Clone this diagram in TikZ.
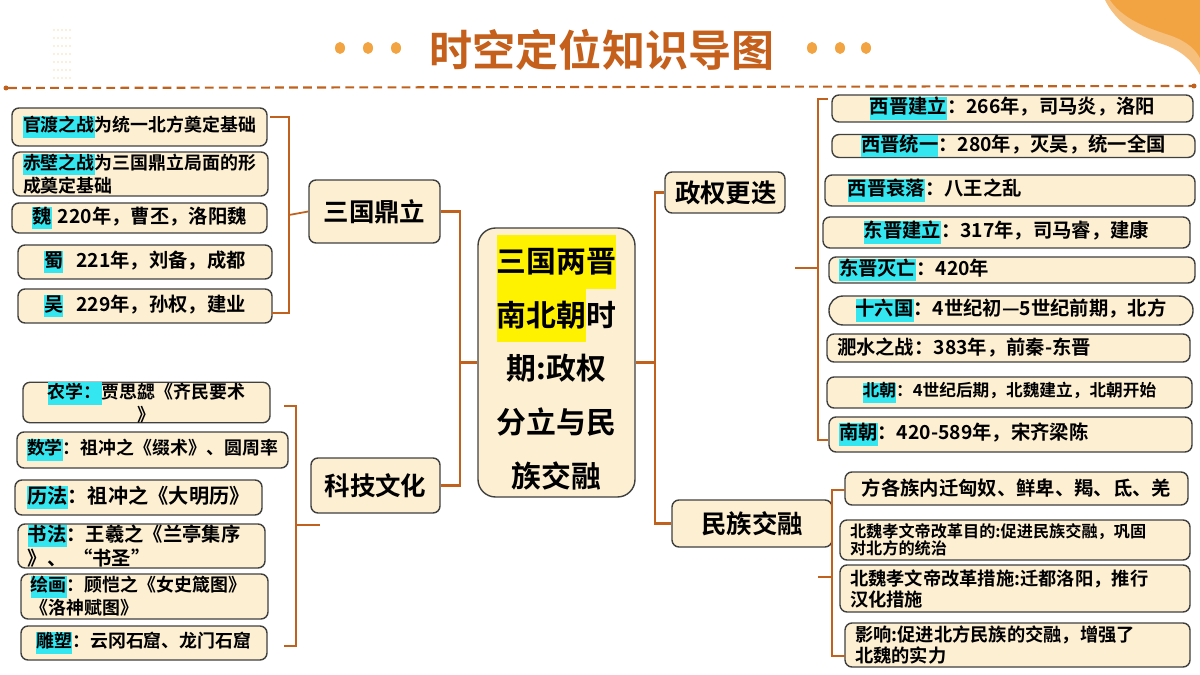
\documentclass[tikz,border=0pt]{standalone}
\usepackage{fontspec}
\setmainfont{Noto Sans CJK SC}[BoldFont={Noto Sans CJK SC Bold}]
\definecolor{cream}{HTML}{FDEFD2}
\definecolor{hlc}{HTML}{33E6F0}
\definecolor{hly}{HTML}{FFF200}
\definecolor{brk}{HTML}{C0621E}
\definecolor{ttl}{HTML}{C5601C}
\definecolor{dot}{HTML}{F2A443}
\newcommand\hl[1]{{\setlength\fboxsep{0pt}\colorbox{hlc}{\strut #1}}}
\newcommand\hy[1]{{\setlength\fboxsep{0pt}\colorbox{hly}{\strut #1}}}
\newcommand\bx[7]{\node[bx,#6,text width={(#4-#2-20)*0.02cm},minimum height={(#5-#3)*0.02cm}] (#1) at ({(#2+#4)/2},{(#3+#5)/2}) {#7};}
\tikzset{
 bx/.style={draw=black!75,fill=cream,rounded corners=4pt,line width=0.8pt,inner xsep=0.2cm,inner ysep=0pt,align=center,font=\bfseries\fontsize{10.2}{11.5}\selectfont},
 lnk/.style={draw=brk,line width=1.3pt},
 mid/.style={bx,font=\bfseries\fontsize{14.5}{16}\selectfont}
}
\begin{document}
\begin{tikzpicture}[x=0.02cm,y=-0.02cm]
\useasboundingbox (0,0) rectangle (1200,675);
% decoration
\fill[dot!70] (1105,0) .. controls (1120,30) and (1150,40) .. (1165,45) .. controls (1185,52) and (1195,65) .. (1200,75) -- (1200,0) -- cycle;
\fill[dot] (1110,0) .. controls (1125,22) and (1155,30) .. (1172,36) .. controls (1188,42) and (1196,50) .. (1200,58) -- (1200,0) -- cycle;
\foreach \i in {0,...,6} \foreach \j in {0,...,4} \fill[dot!80] ({54+\j*4},{30+\i*8}) circle (0.7);
\node[font=\bfseries\fontsize{24.5}{26}\selectfont,text=ttl] (title) at (602,50) {时空定位知识导图};
\foreach \x in {340,368,396,812,840,866} \fill[dot] (\x,48) ellipse (5 and 6);
\draw[brk,line width=1.2pt,dash pattern=on 5pt off 3pt] (8,88) -- (1192,86);
\fill[brk] (6,88) circle (2.5); \fill[brk] (1194,86) circle (2.5);
% center
\node[bx,minimum width={157*0.02cm},minimum height={269*0.02cm},rounded corners=10pt,font=\bfseries\fontsize{17}{30.5}\selectfont] (c) at (556.5,362.5) {\hy{三国两晋}\\\hy{南北朝}时\\期:政权\\分立与民\\族交融};
% level 1
\node[mid,minimum width={131*0.02cm},minimum height={63*0.02cm},text width={111*0.02cm}] (sg) at (374.5,211.5) {三国鼎立};
\node[mid,minimum width={129*0.02cm},minimum height={55*0.02cm},text width={109*0.02cm}] (kj) at (375.5,485.5) {科技文化};
\node[mid,minimum width={120*0.02cm},minimum height={41*0.02cm},text width={100*0.02cm}] (zq) at (725,192.5) {政权更迭};
\node[mid,minimum width={160*0.02cm},minimum height={47*0.02cm},text width={140*0.02cm}] (mz) at (752,523.5) {民族交融};
\coordinate (cl) at (460,350); \coordinate (cr) at (655,357);
\draw[lnk] (sg.east) -| (cl) |- (c.west);
\draw[lnk] (kj.east) -| (cl);
\draw[lnk] (c.east) -| (cr) |- (zq.west);
\draw[lnk] (cr) |- (mz.west);
% left group 1
\bx{a1}{12}{108}{267}{146}{}{\hl{官渡之战}为统一北方奠定基础}
\bx{a2}{13}{152}{268}{196}{align=left}{\hl{赤壁之战}为三国鼎立局面的形\\成奠定基础}
\bx{a3}{12}{203}{267}{233}{font=\bfseries\fontsize{11}{12}\selectfont}{\hl{魏} 220年，曹丕，洛阳魏}
\bx{a4}{18}{245}{272}{279}{font=\bfseries\fontsize{11}{12}\selectfont}{\hl{蜀}\ \ 221年，刘备，成都}
\bx{a5}{18}{289}{272}{323}{font=\bfseries\fontsize{11}{12}\selectfont}{\hl{吴}\ \ 229年，孙权，建业}
\draw[lnk,line width=1pt] (270,117) -- (289,117) -- (289,313) -- (272,313);
\draw[lnk,line width=1pt] (289,215) -- (sg.west);
% left group 2
\bx{b1}{23}{385}{270}{420}{font=\bfseries\fontsize{10.2}{13}\selectfont}{\hl{农学：}贾思勰《齐民要术\\》}
\bx{b2}{17}{432}{288}{468}{}{\hl{数学}：祖冲之《缀术》、圆周率}
\bx{b3}{15}{480}{262}{515}{font=\bfseries\fontsize{11.5}{12}\selectfont}{\hl{历法}：祖冲之《大明历》}
\bx{b4}{18}{524}{265}{568}{align=left,font=\bfseries\fontsize{11}{11.5}\selectfont}{\hl{书法}：王羲之《兰亭集序\\》、\ “书圣”}
\bx{b5}{21}{574}{268}{619}{align=left}{\hl{绘画}：顾恺之《女史箴图》\\《洛神赋图》}
\bx{b6}{21}{626}{267}{660}{}{\hl{雕塑}：云冈石窟、龙门石窟}
\draw[lnk,line width=1pt] (284,406) -- (296,406) -- (296,646) -- (284,646);
\draw[lnk,line width=1pt] (296,525) -- (320,525);
% right group 1
\tikzset{rf/.style={font=\bfseries\fontsize{11}{12}\selectfont}}
\bx{r1}{832}{95}{1193}{122}{rf}{\hl{西晋建立}：266年，司马炎，洛阳}
\bx{r2}{832}{135}{1195}{157}{rf}{\hl{西晋统一}：280年，灭吴，统一全国}
\bx{r3}{825}{175}{1195}{206}{rf,align=left}{\ \ \hl{西晋衰落}：八王之乱}
\bx{r4}{823}{217}{1190}{248}{rf}{\hl{东晋建立}：317年，司马睿，建康}
\bx{r5}{829}{257}{1195}{283}{rf,align=left}{\hl{东晋灭亡}：420年}
\bx{r6}{829}{296}{1193}{325}{rf,rounded corners=8pt}{\hl{十六国}：4世纪初—5世纪前期，北方}
\bx{r7}{827}{334}{1190}{362}{rf,align=left}{淝水之战：383年，前秦-东晋}
\bx{r8}{827}{377}{1192}{408}{font=\bfseries\fontsize{9.5}{11}\selectfont}{\hl{北朝}：4世纪后期，北魏建立，北朝开始}
\bx{r9}{829}{417}{1192}{452}{rf,align=left}{\hl{南朝}：420-589年，宋齐梁陈}
\draw[lnk,line width=1pt] (828,99) -- (818,99) -- (818,440) -- (828,440);
\draw[lnk,line width=1pt] (818,268) -- (795,268);
% right group 2
\tikzset{sf/.style={align=left,font=\bfseries\fontsize{9.6}{10.5}\selectfont}}
\bx{s1}{845}{472}{1188}{505}{font=\bfseries\fontsize{11}{12}\selectfont}{方各族内迁匈奴、鲜卑、羯、氐、羌}
\bx{s2}{840}{520}{1190}{560}{sf,font=\bfseries\fontsize{9.2}{10}\selectfont}{北魏孝文帝改革目的:促进民族交融，巩固\\对北方的统治}
\bx{s3}{840}{565}{1190}{612}{sf,font=\bfseries\fontsize{10.4}{12}\selectfont}{北魏孝文帝改革措施:迁都洛阳，推行\\汉化措施}
\bx{s4}{845}{623}{1190}{667}{sf,font=\bfseries\fontsize{10.4}{12}\selectfont}{影响:促进北方民族的交融，增强了\\北魏的实力}
\draw[lnk,line width=1pt] (845,490) -- (832,490) -- (832,656) -- (845,656);
\draw[lnk,line width=1pt] (832,577) -- (818,577);
\end{tikzpicture}
\end{document}
